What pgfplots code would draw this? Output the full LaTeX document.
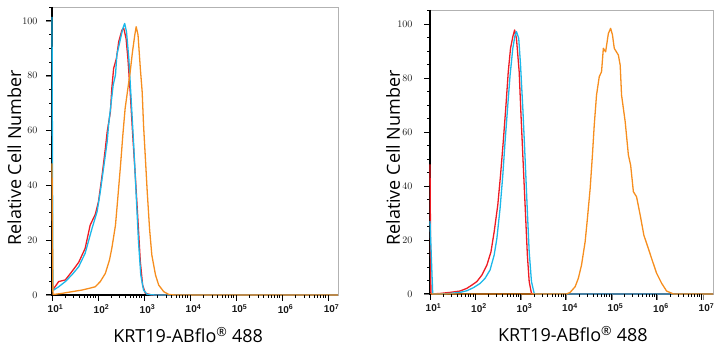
\documentclass[border=0pt]{standalone}
\usepackage{pgfplots}
\pgfplotsset{compat=1.18}
\usepackage{fontspec}
\setmainfont{Open Sans}
\newfontfamily\tickfont{Liberation Sans}
\definecolor{cred}{RGB}{238,28,36}
\definecolor{ccyan}{RGB}{28,184,234}
\definecolor{corange}{RGB}{246,142,30}
\newcommand{\flowyticks}{%
  \pgfplotsinvokeforeach{0,20,40,60,80,100}{\draw[black,line width=1pt] (axis cs:1,##1) -- ++(-6pt,0pt);}%
  \pgfplotsinvokeforeach{5,10,15,25,30,35,45,50,55,65,70,75,85,90,95,105}{\draw[black,line width=0.9pt] (axis cs:1,##1) -- ++(-3pt,0pt);}%
  \draw[black, line width=1.1pt] (rel axis cs:0,1) -- (rel axis cs:0,0) -- (rel axis cs:1,0);%
}
% x ticks drawn in plain TikZ: #1 = x0 (pt), #2 = y0 (pt), #3 = pt per decade
\newcommand{\flowxticks}[3]{%
  \pgfmathsetmacro\yA{#2-6.5}%
  \pgfmathsetmacro\yB{#2-3.3}%
  \foreach \d in {1,2,3,4,5,6,7}{%
    \pgfmathsetmacro\xx{#1+(\d-1)*#3}%
    \draw[black,line width=1pt] (\xx pt,#2pt) -- (\xx pt,\yA pt);}%
  \foreach \d in {1,2,3,4,5,6}{%
    \foreach \m in {0.301,0.477,0.602,0.699,0.778,0.845,0.903,0.954}{%
      \pgfmathsetmacro\xx{#1+(\d-1+\m)*#3}%
      \draw[black,line width=0.9pt] (\xx pt,#2pt) -- (\xx pt,\yB pt);}}%
}
\pgfplotsset{flowax/.style={
  scale only axis, xmin=1, ymin=0,
  axis line style={draw=gray!60, line width=0.6pt},
  tick align=outside, tick pos=left,
  xtick={1,2,3,4,5,6,7},
  xticklabels={10\textsuperscript{1},10\textsuperscript{2},10\textsuperscript{3},10\textsuperscript{4},10\textsuperscript{5},10\textsuperscript{6},10\textsuperscript{7}},
  ytick={0,20,40,60,80,100},
  major tick length=6pt, minor tick length=3pt,
  xticklabel style={font=\tickfont\bfseries\fontsize{10}{11}\selectfont, text=black!90, xshift=3.5pt},
  yticklabel style={font=\tickfont\bfseries\fontsize{10}{11}\selectfont, text=black!90},
  clip=false,
  every axis plot/.append style={line width=1.3pt, line join=round, mark=none},
}}
\begin{document}
\begin{tikzpicture}
\useasboundingbox (0,0) rectangle (723pt,350pt);
% ---------------- left panel ----------------
\begin{axis}[flowax, at={(52pt,55pt)}, anchor=south west,
  width=286pt, height=288pt, xmax=7.217, ymax=105.1,
  yticklabel style={xshift=-5pt}]
\flowyticks
\addplot[cred] coordinates {
(1.0,2.4)(1.04,2.4)(1.145,4.9)(1.29,5.5)(1.43,8.5)(1.58,11.9)(1.72,17)(1.83,25.5)(1.94,29.4)(2.01,34)
(2.09,43.8)(2.16,53.5)(2.20,59.6)(2.27,66.9)(2.30,75.4)(2.34,82.7)(2.40,86.3)(2.45,92.4)(2.52,96.7)(2.56,97.3)
(2.61,93.6)(2.65,86.3)(2.70,74)(2.75,59.6)(2.81,43.8)(2.87,26.8)(2.92,12.2)(2.97,3.6)(3.03,0.6)(3.17,0)(7.217,0)};
\addplot[ccyan] coordinates {
(1.0,101.5)(1.02,1.8)(1.036,1.8)(1.145,3.0)(1.29,4.9)(1.43,7.3)(1.58,10.3)(1.72,15.2)(1.87,24.3)(1.98,30.4)
(2.05,37.7)(2.12,46.2)(2.20,56)(2.23,62)(2.28,69.3)(2.33,76.6)(2.38,80.3)(2.41,87.6)(2.49,93.6)(2.54,97.3)
(2.58,99.1)(2.62,96)(2.67,86.3)(2.72,71.7)(2.78,53.5)(2.83,36.5)(2.88,19.5)(2.93,7.3)(2.99,1.8)(3.07,0.2)(3.25,0)(7.217,0)};
\addplot[corange] coordinates {
(1.0,48)(1.02,0.2)(1.04,0.2)(1.22,0.6)(1.43,1.2)(1.65,1.8)(1.80,2.4)(1.94,3.0)(2.05,4.9)(2.16,7.9)
(2.25,12.8)(2.30,17)(2.38,25.5)(2.43,35.3)(2.49,47.4)(2.54,58.4)(2.59,68.1)(2.65,75.4)(2.70,81.5)(2.75,88.8)
(2.80,94.9)(2.83,97.9)(2.87,94.9)(2.92,82.7)(2.96,74.2)(2.99,62)(3.03,49.9)(3.07,37.7)(3.12,24.3)(3.17,14.6)
(3.25,7.3)(3.32,3.6)(3.43,1.2)(3.54,0.2)(3.68,0)(7.217,0)};
\node[font=\fontsize{18}{20}\selectfont, anchor=center] at ([yshift=-40pt]rel axis cs:0.476,0) {KRT19-ABflo\textsuperscript{®} 488};
\node[font=\fontsize{18}{20}\selectfont, rotate=90, anchor=center] at ([xshift=-37.5pt]rel axis cs:0,0.476) {Relative Cell Number};
\end{axis}
\flowxticks{52}{55}{46.003}
% ---------------- right panel ----------------
\begin{axis}[flowax, at={(430pt,56pt)}, anchor=south west,
  width=283pt, height=284pt, xmax=7.22, ymax=105.2,
  yticklabel style={xshift=-8pt}]
\flowyticks
\addplot[cred] coordinates {
(1.0,48)(1.02,0)(1.22,0.2)(1.44,0.6)(1.66,1.1)(1.81,2.1)(1.92,3.3)(2.03,4.6)(2.14,7.0)(2.25,10.7)
(2.34,15.6)(2.41,23)(2.49,33)(2.55,44)(2.61,56.4)(2.67,70)(2.72,82.3)(2.77,91)(2.82,95.3)(2.86,97.8)
(2.90,94.7)(2.96,82.3)(3.00,66.3)(3.05,47.7)(3.10,29.2)(3.14,14.4)(3.18,4.6)(3.23,0.2)(3.31,0)(7.22,0)};
\addplot[ccyan] coordinates {
(1.0,27)(1.06,0)(1.22,0)(1.44,0.2)(1.66,0.6)(1.81,1.2)(1.95,2.3)(2.10,3.9)(2.21,5.8)(2.32,8.9)
(2.41,14.4)(2.47,20.6)(2.54,31.7)(2.60,44)(2.65,56.4)(2.71,70)(2.76,81)(2.82,91)(2.87,95.9)(2.90,97.2)
(2.95,94.7)(2.99,84.8)(3.04,68.8)(3.09,50.2)(3.14,30.5)(3.18,15.6)(3.23,4.6)(3.29,0.2)(3.34,0)(7.22,0)};
\addplot[corange] coordinates {
(1.0,0)(3.86,0)(4.00,0)(4.08,0.6)(4.19,2.7)(4.26,5.8)(4.33,10.7)(4.41,19.4)(4.46,28)(4.52,39.1)
(4.57,51.5)(4.61,62.6)(4.66,73.7)(4.72,80.5)(4.77,82.3)(4.81,91)(4.86,89.7)(4.92,96.5)(4.97,98.4)(5.01,96)
(5.05,91)(5.14,88.5)(5.18,84.8)(5.21,73.7)(5.29,63.8)(5.36,51.5)(5.41,47.7)(5.47,37.9)(5.54,36)(5.62,29.2)
(5.70,21.8)(5.80,16.8)(5.87,13.2)(5.98,7.7)(6.09,4.0)(6.20,1.1)(6.35,0)(7.22,0)};
\node[font=\fontsize{18}{20}\selectfont, anchor=center] at ([yshift=-40pt]rel axis cs:0.505,0) {KRT19-ABflo\textsuperscript{®} 488};
\node[font=\fontsize{18}{20}\selectfont, rotate=90, anchor=center] at ([xshift=-37pt]rel axis cs:0,0.479) {Relative Cell Number};
\end{axis}
\flowxticks{430}{56}{45.29}
\end{tikzpicture}
\end{document}
